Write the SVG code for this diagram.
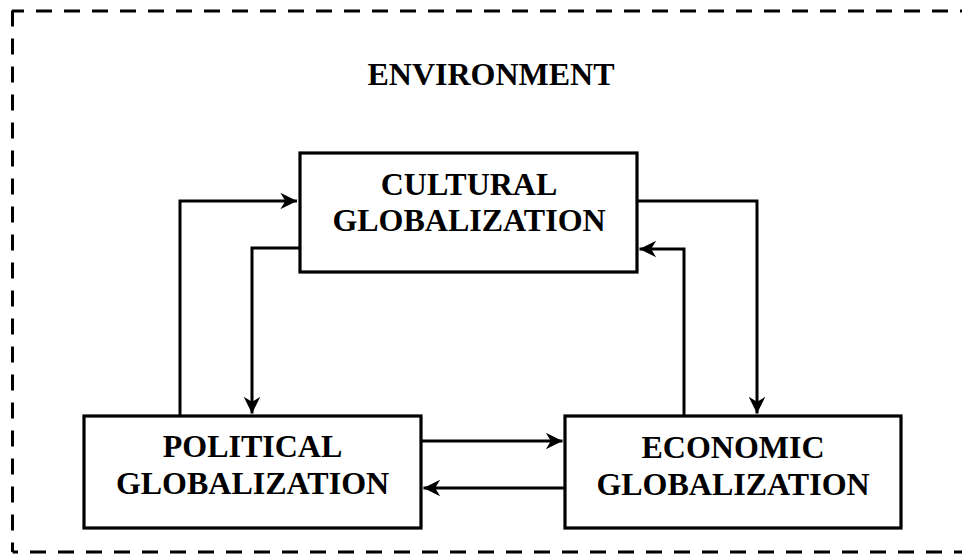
<svg xmlns="http://www.w3.org/2000/svg" width="962" height="554" viewBox="0 0 962 554">
  <style>
    .box { fill: #ffffff; stroke: #000000; stroke-width: 3.2; }
    .lbl { font-family: "Liberation Serif", "Times New Roman", serif; font-weight: bold; font-size: 32px; fill: #000000; text-anchor: middle; }
    .conn { fill: none; stroke: #000000; stroke-width: 3; stroke-linejoin: miter; }
    .env { fill: none; stroke: #000000; stroke-width: 3; stroke-dasharray: 16 12; }
  </style>
  <defs>
    <marker id="arrow" markerUnits="userSpaceOnUse" markerWidth="20" markerHeight="20" viewBox="-16 -9 18 18" refX="0" refY="0" orient="auto">
      <path d="M0,0 L-15,-7.5 L-10.5,0 L-15,7.5 Z" fill="#000000"/>
    </marker>
  </defs>
  <rect width="962" height="554" fill="#ffffff"/>

  <g id="environment">
    <line class="env" x1="12" y1="11" x2="975" y2="11" stroke-dashoffset="4"/>
    <line class="env" x1="12.5" y1="10.5" x2="12.5" y2="552" stroke-dashoffset="0"/>
    <line class="env" x1="12.5" y1="552" x2="975" y2="552" stroke-dashoffset="10.5"/>
    <text class="lbl" x="491" y="85">ENVIRONMENT</text>
  </g>

  <g id="connectors">
    <path class="conn" d="M180,416 V201 H297" marker-end="url(#arrow)"/>
    <path class="conn" d="M300,248 H252 V413.5" marker-end="url(#arrow)"/>
    <path class="conn" d="M637,201 H757 V413.5" marker-end="url(#arrow)"/>
    <path class="conn" d="M684,416 V249 H639.5" marker-end="url(#arrow)"/>
    <path class="conn" d="M421,441 H562.5" marker-end="url(#arrow)"/>
    <path class="conn" d="M565,488 H423.5" marker-end="url(#arrow)"/>
  </g>

  <g id="cultural">
    <rect class="box" x="300" y="153" width="337" height="119"/>
    <text class="lbl" x="469" y="195">CULTURAL</text>
    <text class="lbl" x="469" y="231">GLOBALIZATION</text>
  </g>

  <g id="political">
    <rect class="box" x="84" y="416" width="337" height="112"/>
    <text class="lbl" x="252.5" y="457">POLITICAL</text>
    <text class="lbl" x="252.5" y="494">GLOBALIZATION</text>
  </g>

  <g id="economic">
    <rect class="box" x="565" y="416" width="336" height="112"/>
    <text class="lbl" x="733" y="458">ECONOMIC</text>
    <text class="lbl" x="733" y="495">GLOBALIZATION</text>
  </g>
</svg>
